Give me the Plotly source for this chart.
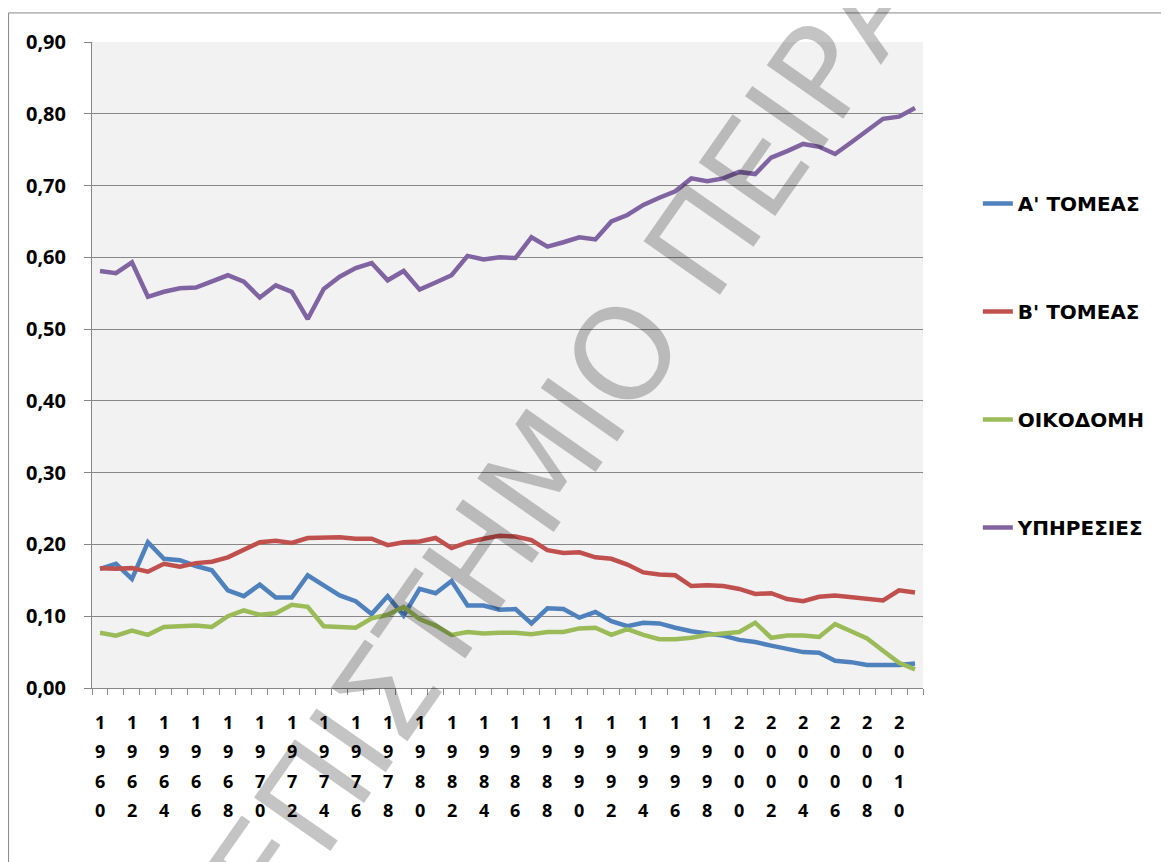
import plotly.graph_objects as go

# years on the category axis, one point per year
years = list(range(1960, 2012))
label_years = list(range(1960, 2012, 2))

a_sector = [0.166, 0.173, 0.152, 0.203, 0.180, 0.178, 0.170, 0.164, 0.136, 0.128,
            0.144, 0.126, 0.126, 0.157, 0.143, 0.129, 0.121, 0.103, 0.128, 0.101,
            0.138, 0.132, 0.149, 0.115, 0.115, 0.109, 0.110, 0.090, 0.111, 0.110,
            0.098, 0.106, 0.093, 0.086, 0.091, 0.090, 0.084, 0.079, 0.076, 0.073,
            0.067, 0.064, 0.059, 0.054, 0.050, 0.049, 0.038, 0.036, 0.032, 0.032,
            0.032, 0.034]
b_sector = [0.167, 0.166, 0.167, 0.162, 0.173, 0.169, 0.174, 0.176, 0.182, 0.193,
            0.203, 0.205, 0.202, 0.209, 0.209, 0.210, 0.208, 0.208, 0.199, 0.203,
            0.204, 0.209, 0.195, 0.203, 0.208, 0.212, 0.211, 0.206, 0.192, 0.188,
            0.189, 0.182, 0.180, 0.172, 0.161, 0.158, 0.157, 0.142, 0.143, 0.142,
            0.138, 0.131, 0.132, 0.124, 0.121, 0.127, 0.129, 0.127, 0.124, 0.122,
            0.136, 0.133]
construction = [0.077, 0.073, 0.080, 0.074, 0.085, 0.086, 0.087, 0.085, 0.100, 0.108,
                0.102, 0.104, 0.116, 0.113, 0.086, 0.085, 0.084, 0.097, 0.102, 0.113,
                0.096, 0.087, 0.074, 0.078, 0.076, 0.077, 0.077, 0.075, 0.078, 0.078,
                0.083, 0.084, 0.074, 0.082, 0.074, 0.068, 0.068, 0.070, 0.074, 0.076,
                0.078, 0.091, 0.070, 0.073, 0.073, 0.071, 0.089, 0.079, 0.069, 0.052,
                0.035, 0.026]
services = [0.581, 0.578, 0.593, 0.545, 0.552, 0.557, 0.558, 0.566, 0.575, 0.566,
            0.544, 0.561, 0.552, 0.514, 0.556, 0.573, 0.585, 0.592, 0.568, 0.581,
            0.555, 0.565, 0.575, 0.602, 0.597, 0.600, 0.599, 0.628, 0.615, 0.621,
            0.628, 0.625, 0.650, 0.659, 0.673, 0.683, 0.692, 0.710, 0.706, 0.710,
            0.719, 0.716, 0.739, 0.748, 0.758, 0.754, 0.744, 0.760, 0.776, 0.793,
            0.796, 0.808]

series_names = ["Α' ΤΟΜΕΑΣ", "Β' ΤΟΜΕΑΣ", "ΟΙΚΟΔΟΜΗ", "ΥΠΗΡΕΣΙΕΣ"]
series_values = [a_sector, b_sector, construction, services]
colors = ["#4F81BD", "#C0504D", "#9BBB59", "#8064A2"]

FONT = "Open Sans"
GRID = "#878787"

fig = go.Figure()
for name, vals, col in zip(series_names, series_values, colors):
    fig.add_trace(go.Scatter(
        x=years, y=vals, mode="lines", name=name, legendgroup=name,
        line=dict(color=col, width=4.5),
    ))

# year labels written one digit per row, like the original
annotations = []
for yr in label_years:
    for k, ch in enumerate(str(yr)):
        annotations.append(dict(
            x=yr, y=0, xref="x", yref="paper", text=ch, showarrow=False,
            xanchor="center", yanchor="middle", yshift=-(33.5 + 29.6 * k),
            font=dict(family=FONT, size=18, color="black", weight="bold"),
        ))

# watermark
annotations.append(dict(
    x=0.55, y=0.35, xref="paper", yref="paper", text="ΠΑΝΕΠΙΣΤΗΜΙΟ ΠΕΙΡΑΙΩΣ",
    showarrow=False, textangle=-55, xanchor="center", yanchor="middle",
    font=dict(family="DejaVu Sans", size=128, color="rgba(0,0,0,0.23)"),
))

# outer chart frame (top and left edges are the only ones in view)
frame = [
    dict(type="line", xref="paper", yref="paper", x0=-0.1004, y0=1.045, x1=1.4, y1=1.045,
         line=dict(color=GRID, width=1)),
    dict(type="line", xref="paper", yref="paper", x0=-0.1004, y0=1.045, x1=-0.1004, y1=-0.3,
         line=dict(color=GRID, width=1)),
]

fig.update_layout(
    width=1169, height=862,
    # the page puts the figure 8px in from the corner
    margin=dict(l=84, r=254, t=34, b=182),
    paper_bgcolor="white", plot_bgcolor="#F2F2F2",
    separators=",.",
    font=dict(family=FONT, size=18, color="black"),
    showlegend=True,
    legend=dict(
        x=1.066, y=0.78, xanchor="left", yanchor="top",
        font=dict(family="DejaVu Sans", size=20, color="black", weight="bold"),
        tracegroupgap=79, bgcolor="rgba(0,0,0,0)",
    ),
    annotations=annotations,
    shapes=frame,
)

fig.update_xaxes(
    range=[1959.5, 2011.5], tick0=1959.5, dtick=1,
    showticklabels=False, showgrid=False, zeroline=False,
    showline=True, linecolor=GRID, linewidth=1,
    ticks="outside", ticklen=6, tickcolor=GRID,
)
fig.update_yaxes(
    range=[0, 0.9], dtick=0.1, tickformat=".2f",
    showgrid=True, gridcolor=GRID, gridwidth=1, zeroline=False,
    showline=True, linecolor=GRID, linewidth=1,
    ticks="outside", ticklen=7, tickcolor=GRID, ticklabelstandoff=14,
    tickfont=dict(family=FONT, size=20, color="black", weight="bold"),
)

fig.write_html("out.html")
